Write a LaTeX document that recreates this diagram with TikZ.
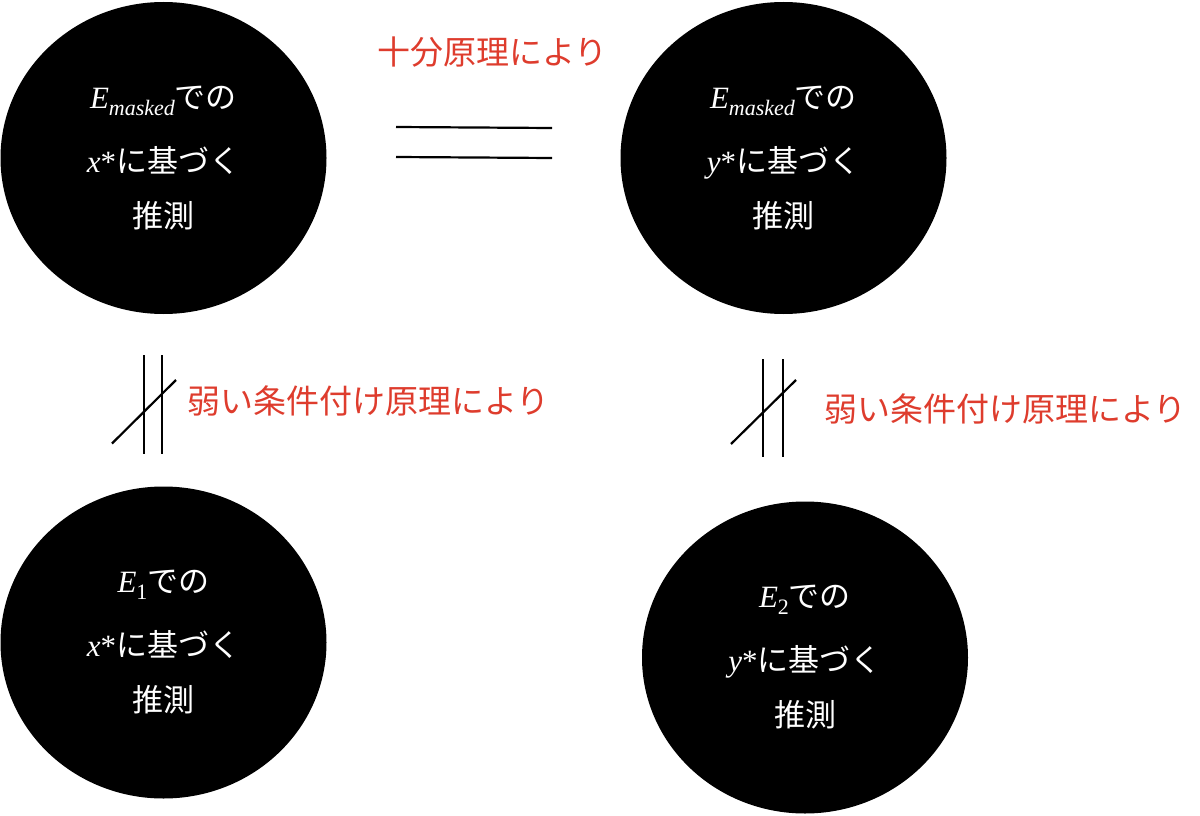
\documentclass[tikz,border=0pt]{standalone}
\usepackage{fontspec}
\setmainfont{Noto Sans CJK JP}
\newfontfamily\tms{Liberation Serif}
\usetikzlibrary{shapes.geometric,positioning}
\definecolor{reasonred}{RGB}{222,60,45}
\newcommand{\mvar}[1]{{\tms\itshape #1}}
\newcommand{\msub}[2]{\mvar{E}\raisebox{-0.4ex}{\fontsize{22}{22}\selectfont#1}#2}
\tikzset{
  guess/.style={ellipse, fill=black, draw=none, minimum width=326pt,
    minimum height=312pt, inner sep=0pt, text=white, align=center,
    font=\fontsize{31}{55}\selectfont},
  reason/.style={text=reasonred, anchor=west, inner sep=0pt,
    font=\fontsize{33}{40}\selectfont},
  sign/.style={line width=2.2pt}
}
\begin{document}
\begin{tikzpicture}[x=1pt, y=-1pt]
    \useasboundingbox (0,0) rectangle (1200,816);
    % the four guesses
    \node[guess] (mx) at (163.5,158) {\msub{\mvar{masked}}{での}\\[9pt]\mvar{x}{\tms*}に基づく\\推測};
    \node[guess] (my) at (783.5,158) {\msub{\mvar{masked}}{での}\\[9pt]\mvar{y}{\tms*}に基づく\\推測};
    \node[guess] (ex) at (163.5,642.5) {\msub{\tms 1}{での}\\[9pt]\mvar{x}{\tms*}に基づく\\推測};
    \node[guess] (ey) at (805,657.5) {\msub{\tms 2}{での}\\[9pt]\mvar{y}{\tms*}に基づく\\推測};
    % reasons
    \node[reason] (suff) at (377,52) {十分原理により};
    \node[reason] (weakx) at (187,401) {弱い条件付け原理により};
    \node[reason] (weaky) at (824,409) {弱い条件付け原理により};
    % equal sign
    \coordinate (eqa) at (396,127);
    \coordinate (eqb) at (552,128);
    \coordinate (eqc) at (396,157);
    \coordinate (eqd) at (552,158);
    \draw[sign] (eqa) -- (eqb);
    \draw[sign] (eqc) -- (eqd);
    % not equal signs
    \coordinate (nxa) at (144,355);
    \coordinate (nxb) at (144,454);
    \coordinate (nxc) at (162,355);
    \coordinate (nxd) at (162,454);
    \coordinate (nxe) at (112,443.5);
    \coordinate (nxf) at (176,380);
    \draw[sign] (nxa) -- (nxb);
    \draw[sign] (nxc) -- (nxd);
    \draw[sign] (nxe) -- (nxf);
    \coordinate (nya) at (763,359);
    \coordinate (nyb) at (763,457);
    \coordinate (nyc) at (783,359);
    \coordinate (nyd) at (783,457);
    \coordinate (nye) at (731,444);
    \coordinate (nyf) at (796,380);
    \draw[sign] (nya) -- (nyb);
    \draw[sign] (nyc) -- (nyd);
    \draw[sign] (nye) -- (nyf);
\end{tikzpicture}
\end{document}
